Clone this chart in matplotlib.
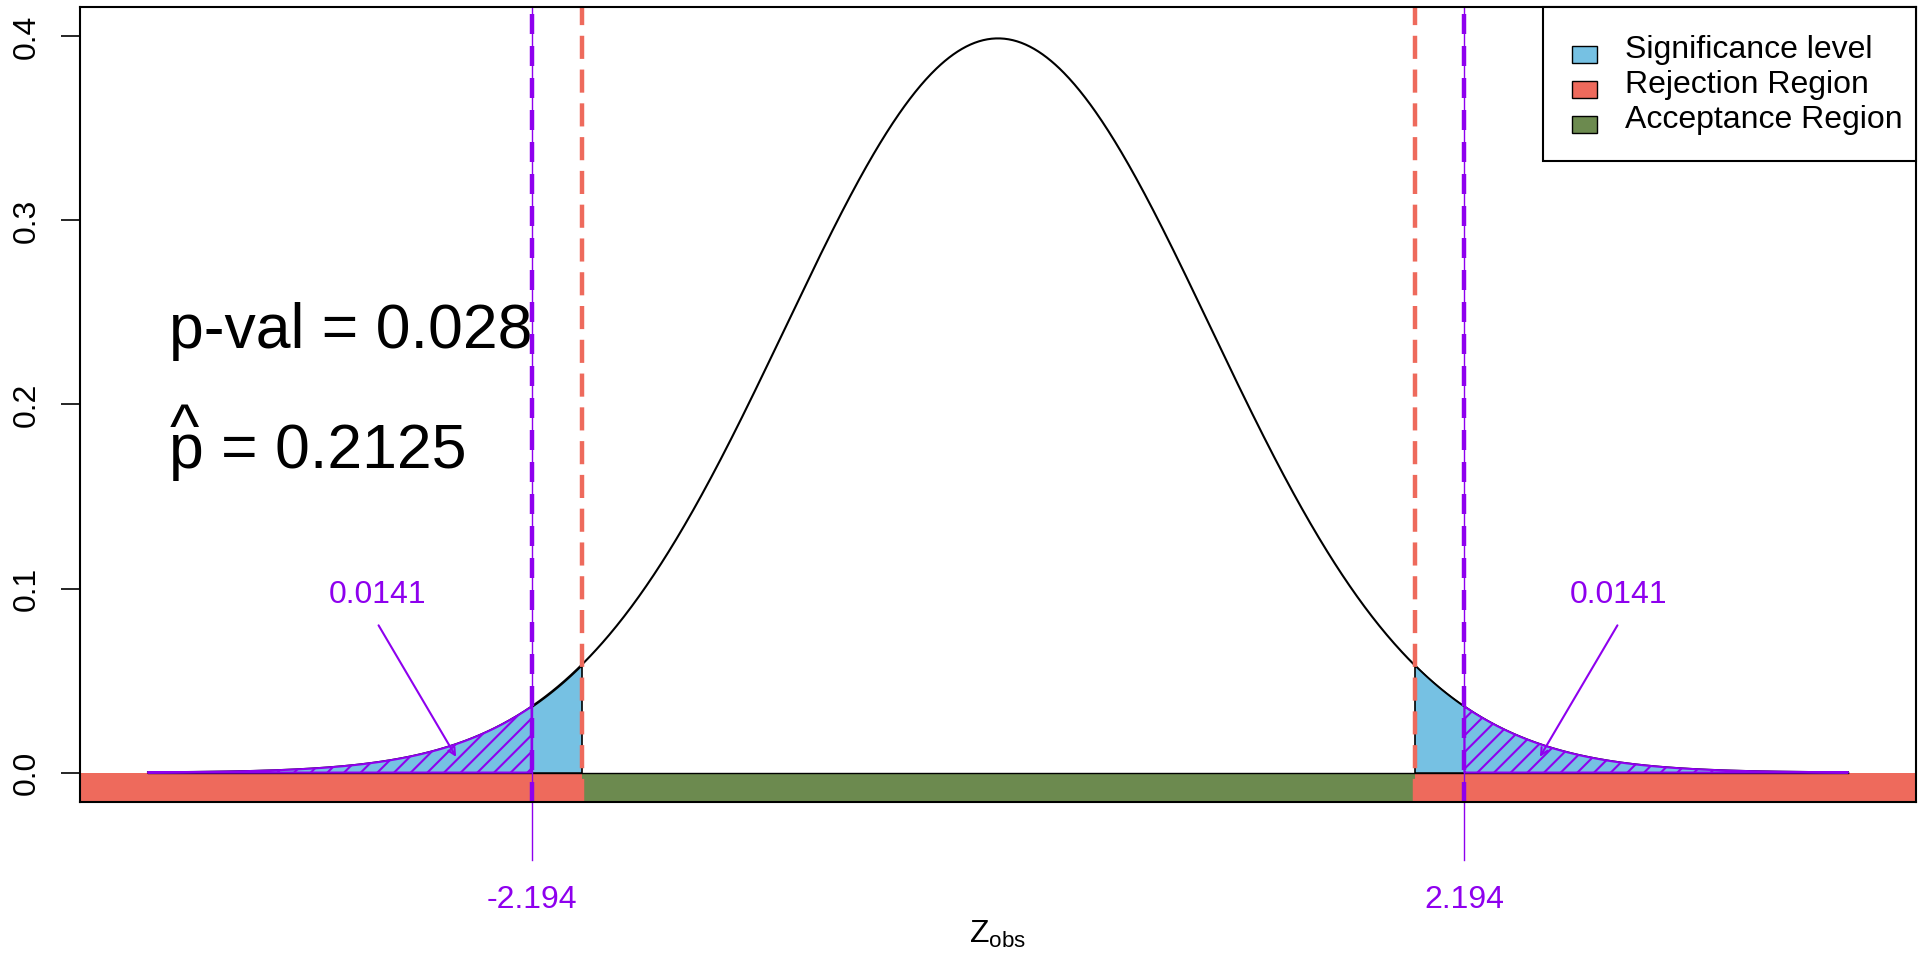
import numpy as np
import matplotlib
matplotlib.use("Agg")
import matplotlib.pyplot as plt
from matplotlib.patches import Rectangle

plt.rcParams['font.family'] = ['Liberation Sans', 'DejaVu Sans']
plt.rcParams['mathtext.fontset'] = 'custom'
plt.rcParams['mathtext.rm'] = 'Liberation Sans'
plt.rcParams['mathtext.it'] = 'Liberation Sans:italic'
plt.rcParams['hatch.linewidth'] = 1.5

# ---------------- data ----------------
x_min, x_max = -4.0, 4.0          # range of the plotted density
z_crit = 1.96                     # critical value (alpha = 0.05)
z_obs = 2.194                     # observed statistic
tail_area = 0.0141                # area beyond |z_obs| in each tail
p_value = 0.028
p_hat = 0.2125
legend_labels = ["Significance level", "Rejection Region", "Acceptance Region"]
y_ticks = [0.0, 0.1, 0.2, 0.3, 0.4]
y_tick_labels = ["0.0", "0.1", "0.2", "0.3", "0.4"]

# ---------------- styles ----------------
RED = "#EE6A5C"
BLUE = "#76C1E3"
GREEN = "#6C8A4F"
PURPLE = "#8E00EE"
legend_colors = [BLUE, RED, GREEN]

def dnorm(v):
    return np.exp(-v ** 2 / 2) / np.sqrt(2 * np.pi)

x = np.linspace(x_min, x_max, 1601)
y = dnorm(x)

W, H = 1920, 960
fig = plt.figure(figsize=(19.2, 9.6), dpi=100)
ax = fig.add_axes([80 / W, 1 - 802 / H, (1916 - 80) / W, (802 - 7) / H])
ax.set_xlim(-4.32, 4.32)
ax.set_ylim(-0.016, 0.416)

def fx(px):
    return px / W

def fy(py):
    return 1 - py / H

# region bars below the axis line
far = 10
ax.fill_between([-far, -z_crit], -0.1, 0, facecolor=RED, edgecolor='none', zorder=1)
ax.fill_between([-z_crit, z_crit], -0.1, 0, facecolor=GREEN, edgecolor='none', zorder=1)
ax.fill_between([z_crit, far], -0.1, 0, facecolor=RED, edgecolor='none', zorder=1)

# density curve and baseline
ax.plot(x, y, color='black', lw=1.5, zorder=3)
ax.plot([x_min, x_max], [0, 0], color='black', lw=1.0, zorder=3)

# significance level (blue)
for mask in (x <= -z_crit, x >= z_crit):
    ax.fill_between(x[mask], 0, y[mask], facecolor=BLUE, edgecolor='black', lw=1.2, zorder=4)

# observed tail areas (hatched)
for mask in (x <= -z_obs, x >= z_obs):
    ax.fill_between(x[mask], 0, y[mask], facecolor=BLUE, edgecolor=PURPLE, hatch='//',
                    lw=1.5, zorder=5)

# critical value lines
for v in (-z_crit, z_crit):
    ax.axvline(v, color=RED, lw=3.2, dashes=(5.2, 2.4), zorder=6)

# observed value lines
for v in (-z_obs, z_obs):
    ax.plot([v, v], [-0.0473, 0.416], color=PURPLE, lw=1.0, clip_on=False, zorder=7)
    ax.axvline(v, color=PURPLE, lw=3.2, dashes=(4.5, 2.7), zorder=7)
    ax.text(v, -0.069, f"{v:.3f}", color=PURPLE, fontsize=23, ha='center', va='center',
            clip_on=False)

# tail area annotations
for s in (-1, 1):
    ax.annotate("", xy=(s * 2.55, 0.0085), xytext=(s * 2.915, 0.080),
                arrowprops=dict(arrowstyle='->,head_length=0.5,head_width=0.25',
                                color=PURPLE, lw=1.5, shrinkA=0, shrinkB=0), zorder=8)
    ax.text(s * 2.92, 0.0965, f"{tail_area:.4f}", color=PURPLE, fontsize=23,
            ha='center', va='center')

# statistics text
ax.text(-3.902, 0.2307, f"p-val = {p_value:.3f}", fontsize=45, ha='left', va='baseline')
ax.text(-3.902, 0.1657, f"p = {p_hat:.4f}", fontsize=45, ha='left', va='baseline')
fig.text(fx(184.5), fy(448), "^", fontsize=45, ha='center', va='baseline')

# axes
ax.set_xticks([])
ax.set_yticks(y_ticks)
ax.set_yticklabels(y_tick_labels, rotation=90, va='center', fontsize=23)
ax.tick_params(axis='y', length=13.7, width=1.2, pad=14)
for sp in ax.spines.values():
    sp.set_linewidth(1.5)
    sp.set_zorder(10)

fig.text(fx(998), fy(943), r"$\mathrm{Z}_{\mathrm{obs}}$", fontsize=23,
         ha='center', va='baseline')

# legend (drawn in R style)
frame = Rectangle((fx(1543), fy(161)), fx(1916) - fx(1543), fy(7) - fy(161),
                  transform=fig.transFigure, facecolor='white', edgecolor='black',
                  lw=1.5, zorder=20, clip_on=False)
ax.add_patch(frame)
for i, (lab, col) in enumerate(zip(legend_labels, legend_colors)):
    yc = 54.7 + 35 * i
    sq = Rectangle((fx(1572), fy(yc + 8.5)), fx(1597) - fx(1572), fy(yc - 8.5) - fy(yc + 8.5),
                   transform=fig.transFigure, facecolor=col, edgecolor='black', lw=1.0,
                   zorder=21, clip_on=False)
    ax.add_patch(sq)
    ax.text(fx(1625), fy(58.3 + 35 * i), lab, transform=fig.transFigure, fontsize=23,
            ha='left', va='baseline', zorder=22)

fig.savefig("out.png", dpi=100)
